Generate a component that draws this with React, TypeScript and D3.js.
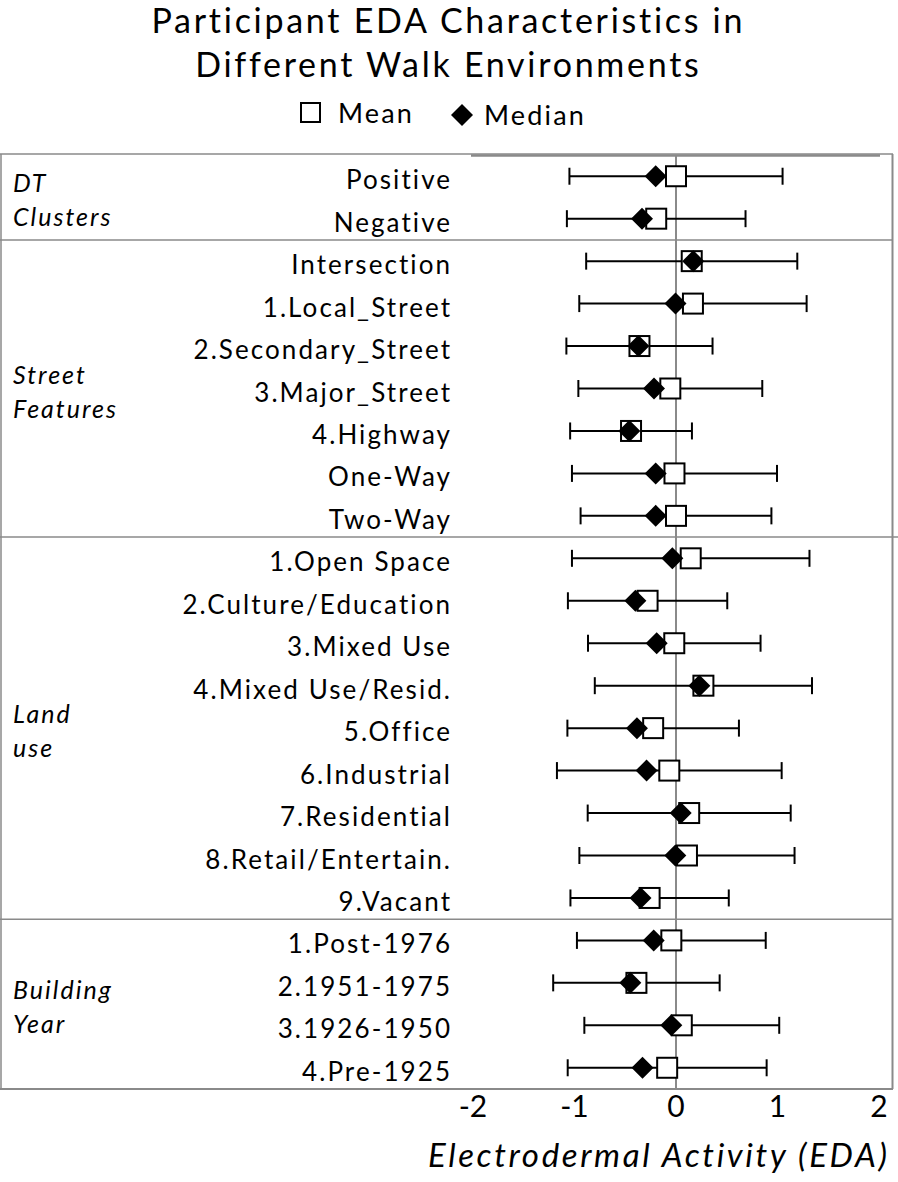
import React from "react";
import * as d3 from "d3";

const categories = [
  "Positive", "Negative",
  "Intersection", "1.Local_Street", "2.Secondary_Street", "3.Major_Street", "4.Highway", "One-Way", "Two-Way",
  "1.Open Space", "2.Culture/Education", "3.Mixed Use", "4.Mixed Use/Resid.", "5.Office", "6.Industrial", "7.Residential", "8.Retail/Entertain.", "9.Vacant",
  "1.Post-1976", "2.1951-1975", "3.1926-1950", "4.Pre-1925",
];

const meanValues = [
  0.0, -0.195,
  0.155, 0.167, -0.36, -0.056, -0.443, -0.015, 0.0,
  0.145, -0.28, -0.017, 0.27, -0.225, -0.066, 0.13, 0.108, -0.26,
  -0.046, -0.39, 0.057, -0.087,
];

const medianValues = [
  -0.2, -0.335,
  0.17, -0.005, -0.37, -0.217, -0.46, -0.2, -0.2,
  -0.036, -0.4, -0.19, 0.23, -0.385, -0.29, 0.046, -0.007, -0.35,
  -0.22, -0.45, -0.046, -0.33,
];

const sdValues = [
  1.05, 0.88,
  1.04, 1.12, 0.72, 0.906, 0.6, 1.01, 0.94,
  1.17, 0.785, 0.85, 1.07, 0.845, 1.107, 1.0, 1.06, 0.78,
  0.93, 0.82, 0.96, 0.98,
];

const groupNames = [["DT", "Clusters"], ["Street", "Features"], ["Land", "use"], ["Building", "Year"]];
const groupStarts = [0, 2, 9, 18];
const groupEnds = [1, 8, 17, 21];

const xTicks = [-2, -1, 0, 1, 2];
const titleLines = ["Participant EDA Characteristics in", "Different Walk Environments"];
const xTitle = "Electrodermal Activity (EDA)";

const W = 898;
const H = 1182;
const FONT = "Lato, 'Open Sans', sans-serif";
const GREY = "#8a8a8a";
const LS = 0.08; // letter spacing in em

export default function App() {
  const plotTop = 155;
  const plotBottom = 1089;
  const x = d3.scaleLinear().domain([-2, 2]).range([473, 879]);
  const y = d3.scaleBand<string>().domain(categories).range([plotTop, plotBottom]).padding(0);
  const bw = y.bandwidth();
  const cy = (i: number) => (y(categories[i]) as number) + bw / 2;

  const sq = 20;
  const dm = 11;
  const capH = 17;
  const diamondPath = `M0,${-dm} L${dm},0 L0,${dm} L${-dm},0 Z`;

  const labelFs = 26;
  const titleFs = 34;
  const axisTitleFs = 33;

  return (
    <svg width={W} height={H} style={{ display: "block", position: "absolute", left: 0, top: 0 }} fontFamily={FONT}>
      <rect x={0} y={0} width={W} height={H} fill="#fff" />
      {/* title */}
      {titleLines.map((t, i) => (
        <text key={t} x={447 + (titleFs * LS) / 2} y={33 + i * 44} textAnchor="middle" fontSize={titleFs} letterSpacing={`${LS}em`} fill="#000">
          {t}
        </text>
      ))}
      {/* legend */}
      <rect x={301} y={103} width={19} height={19} fill="#fff" stroke="#000" strokeWidth={2} />
      <text x={338} y={123} fontSize={27} letterSpacing={`${LS}em`} fill="#000">Mean</text>
      <path d={diamondPath} transform={`translate(462,115)`} fill="#000" />
      <text x={484} y={125} fontSize={27} letterSpacing={`${LS}em`} fill="#000">Median</text>

      {/* frame */}
      <line x1={0} x2={893} y1={154} y2={154} stroke={GREY} strokeWidth={1.5} />
      <line x1={471} x2={880} y1={155.5} y2={155.5} stroke={GREY} strokeWidth={2.5} />
      <line x1={1} x2={1} y1={154} y2={plotBottom} stroke={GREY} strokeWidth={1.5} />
      <line x1={892.5} x2={892.5} y1={154} y2={plotBottom} stroke={GREY} strokeWidth={2} />
      <line x1={0} x2={893} y1={plotBottom} y2={plotBottom} stroke={GREY} strokeWidth={2} />
      {groupEnds.slice(0, 3).map((e, i) => {
        const yy = (y(categories[e]) as number) + bw;
        return <line key={i} x1={0} x2={i === 1 ? 898 : 893} y1={yy} y2={yy} stroke={GREY} strokeWidth={1.5} />;
      })}
      {/* zero line */}
      <line x1={x(0)} x2={x(0)} y1={plotTop} y2={plotBottom} stroke={GREY} strokeWidth={2} />

      {/* group labels */}
      {groupNames.map((g, i) => {
        const c = ((y(categories[groupStarts[i]]) as number) + (y(categories[groupEnds[i]]) as number) + bw) / 2;
        return (
          <g key={i}>
            <text x={13} y={c - 5} fontSize={25} fontStyle="italic" letterSpacing={`${LS}em`} fill="#000">{g[0]}</text>
            <text x={13} y={c + 29} fontSize={25} fontStyle="italic" letterSpacing={`${LS}em`} fill="#000">{g[1]}</text>
          </g>
        );
      })}

      {/* row labels */}
      {categories.map((c, i) => (
        <text key={c} x={450 + labelFs * LS} y={cy(i) + 13} textAnchor="end" fontSize={labelFs} letterSpacing={`${LS}em`} fill="#000">{c}</text>
      ))}

      {/* error bars and markers */}
      {categories.map((c, i) => {
        const yy = cy(i);
        const lo = x(meanValues[i] - sdValues[i]);
        const hi = x(meanValues[i] + sdValues[i]);
        return (
          <g key={c}>
            <line x1={lo} x2={hi} y1={yy} y2={yy} stroke="#000" strokeWidth={2} />
            <line x1={lo} x2={lo} y1={yy - capH / 2} y2={yy + capH / 2} stroke="#000" strokeWidth={2} />
            <line x1={hi} x2={hi} y1={yy - capH / 2} y2={yy + capH / 2} stroke="#000" strokeWidth={2} />
            <rect x={x(meanValues[i]) - sq / 2} y={yy - sq / 2} width={sq} height={sq} fill="#fff" stroke="#000" strokeWidth={2} />
            <path d={diamondPath} transform={`translate(${x(medianValues[i])},${yy})`} fill="#000" />
          </g>
        );
      })}

      {/* x axis */}
      {xTicks.map((t) => (
        <text key={t} x={x(t)} y={1117} textAnchor="middle" fontSize={30} fill="#000">{t}</text>
      ))}
      <text x={887 + axisTitleFs * LS} y={1167} textAnchor="end" fontSize={axisTitleFs} fontStyle="italic" letterSpacing={`${LS}em`} fill="#000">{xTitle}</text>
    </svg>
  );
}
